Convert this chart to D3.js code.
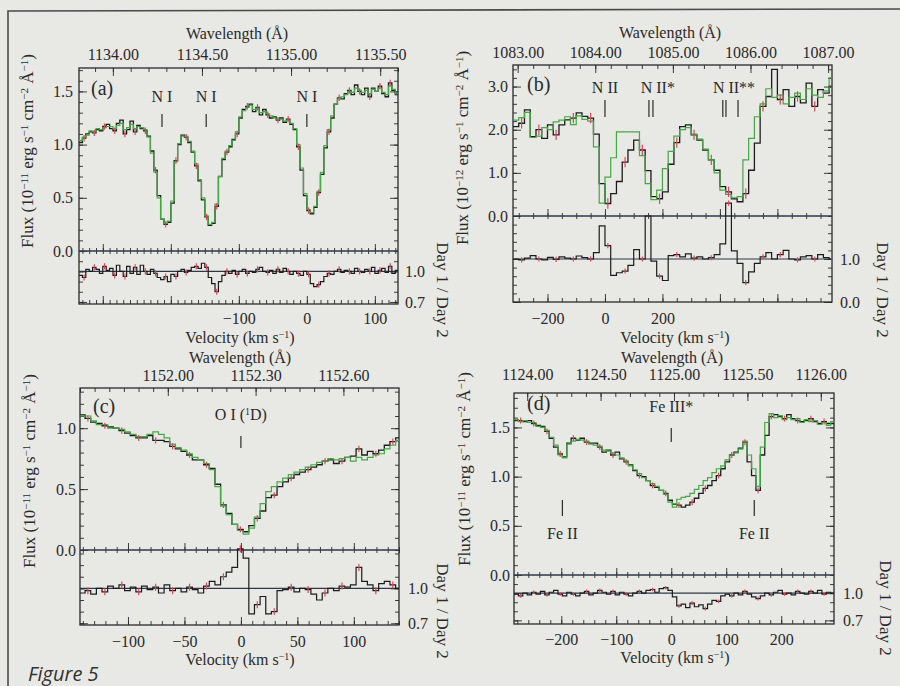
<!DOCTYPE html>
<html>
<head>
<meta charset="utf-8">
<script src="https://cdn.jsdelivr.net/npm/d3@7"></script>
<style>
  body { margin: 0; background: #e8e8e4; }
</style>
</head>
<body>
<svg id="fig" width="900" height="686"></svg>
<script>
// ---- panel (a): N I, flux in 1e-11, bins of 5 km/s from -335
const aDay1 = [1.02,1.06,1.10,1.12,1.11,1.14,1.13,1.17,1.19,1.15,
  1.13,1.20,1.23,1.10,1.14,1.22,1.12,1.18,1.15,1.13,
  1.08,0.94,0.76,0.52,0.30,0.25,0.27,0.45,0.85,1.00,
  1.09,1.07,1.02,0.93,0.80,0.66,0.48,0.32,0.24,0.26,
  0.42,0.70,0.86,0.93,0.98,1.05,1.10,1.25,1.33,1.36,
  1.38,1.31,1.35,1.28,1.33,1.28,1.25,1.26,1.23,1.25,
  1.21,1.24,1.19,1.14,0.98,0.76,0.52,0.38,0.35,0.41,
  0.55,0.72,0.97,1.12,1.25,1.38,1.44,1.43,1.48,1.51,
  1.47,1.56,1.50,1.47,1.53,1.45,1.53,1.50,1.55,1.48,
  1.45,1.58,1.51,1.47,1.50];
const aDay2 = [1.04,1.07,1.09,1.13,1.12,1.15,1.14,1.16,1.17,1.17,
  1.15,1.18,1.20,1.14,1.16,1.19,1.15,1.17,1.16,1.14,
  1.07,0.92,0.74,0.50,0.30,0.26,0.28,0.47,0.84,1.01,
  1.08,1.08,1.03,0.94,0.82,0.67,0.50,0.33,0.25,0.27,
  0.44,0.70,0.87,0.94,0.99,1.04,1.12,1.26,1.32,1.35,
  1.37,1.33,1.34,1.30,1.31,1.29,1.27,1.25,1.24,1.24,
  1.22,1.23,1.20,1.15,1.00,0.78,0.54,0.39,0.36,0.42,
  0.56,0.74,0.99,1.14,1.27,1.38,1.43,1.45,1.47,1.50,
  1.49,1.53,1.51,1.49,1.51,1.48,1.52,1.50,1.53,1.49,
  1.47,1.55,1.52,1.48,1.50];
const aRatio = [0.96,0.94,1.02,1.00,1.04,1.02,0.98,1.05,1.01,1.03,
  0.96,1.06,1.00,0.95,1.05,0.98,1.04,0.97,1.06,1.00,
  0.97,1.02,0.98,0.94,0.92,0.95,0.90,0.97,0.95,1.00,
  1.02,0.99,1.01,1.04,1.05,1.03,1.08,1.04,0.94,0.88,
  0.80,0.90,0.96,1.00,0.98,1.01,0.97,1.00,1.02,0.98,
  1.00,0.99,1.02,1.04,1.00,0.99,1.01,0.98,1.02,0.99,
  1.03,1.00,0.97,1.00,0.98,0.96,1.00,0.97,0.88,0.85,
  0.87,0.90,0.95,0.98,0.97,1.00,1.02,0.99,1.01,1.00,
  0.98,1.03,1.00,0.99,1.02,1.00,1.04,0.98,1.01,1.03,
  0.99,1.05,0.98,1.01,1.00];
const aWaveTicks = [1134.00, 1134.50, 1135.00, 1135.50];
const aVelLabels = [-100, 0, 100];
const aFluxTicks = [0, 0.5, 1.0, 1.5];
const aRatioTicks = [0.7, 1.0];
const aLines = [{name: "N I", at: -213, ticks: [-213]},
                {name: "N I", at: -148, ticks: [-148]},
                {name: "N I", at: 0, ticks: [0]}];

// ---- panel (b): N II, flux in 1e-12, bins of 20 km/s from -320
const bDay1 = [2.07,2.15,2.46,1.84,2.00,1.80,2.11,1.88,2.11,2.23,
  2.27,2.39,2.31,2.27,1.90,0.75,0.29,0.52,0.80,1.25,
  1.53,1.76,1.53,1.05,0.45,0.40,0.56,1.20,1.70,2.07,
  2.11,1.88,1.76,1.53,1.30,1.06,0.68,0.56,0.40,0.33,
  0.52,1.06,1.69,2.54,2.77,3.40,2.70,2.93,2.54,2.77,
  2.62,3.08,2.54,2.93,2.85,3.01];
const bDay2 = [2.22,2.28,2.40,1.82,1.85,2.05,2.00,2.18,2.22,2.30,
  2.12,2.32,2.24,2.20,1.60,0.30,0.90,1.35,1.95,1.95,
  1.95,1.95,1.40,0.75,0.38,0.60,1.10,1.50,1.85,2.00,
  2.05,1.90,1.78,1.55,1.30,1.00,0.60,0.50,0.42,0.45,
  1.30,1.80,2.30,2.60,2.95,2.75,2.80,2.60,2.75,2.85,
  2.70,2.95,2.80,2.75,2.90,3.20];
const bRatio = [1.00,0.98,1.02,1.08,1.00,0.98,1.04,0.99,1.05,1.02,
  1.00,1.07,1.03,1.00,1.15,1.77,1.31,0.62,0.68,0.72,
  0.85,1.22,1.00,2.00,0.95,0.60,0.50,1.08,1.10,1.05,
  1.12,1.02,1.05,1.00,1.03,1.10,1.35,2.30,1.19,0.90,
  0.45,0.70,0.90,1.05,1.15,1.00,1.10,1.20,1.00,0.98,
  1.05,1.08,1.00,1.10,1.03,1.00];
const bWaveTicks = [1083.00, 1084.00, 1085.00, 1086.00, 1087.00];
const bVelLabels = [-200, 0, 200];
const bFluxTicks = [0, 1.0, 2.0, 3.0];
const bRatioTicks = [0, 1.0];
const bLines = [{name: "N II", at: 0, ticks: [0]},
                {name: "N II*", at: 184, ticks: [153, 167]},
                {name: "N II**", at: 449, ticks: [410, 421, 463]}];

// ---- panel (c): O I (1D), flux in 1e-11, bins of 5 km/s from -143
const cDay1 = [1.11,1.08,1.05,1.04,1.02,1.01,1.00,0.98,0.96,0.94,
  0.92,0.92,0.94,0.90,0.90,0.89,0.85,0.83,0.81,0.78,
  0.74,0.74,0.70,0.67,0.54,0.37,0.30,0.21,0.17,0.15,
  0.20,0.26,0.32,0.43,0.45,0.52,0.56,0.59,0.62,0.64,
  0.66,0.68,0.70,0.73,0.74,0.71,0.73,0.76,0.77,0.83,
  0.78,0.81,0.79,0.82,0.86,0.89,0.92];
const cDay2 = [1.10,1.10,1.06,1.03,1.03,1.00,1.00,0.99,0.97,0.95,
  0.93,0.93,0.95,0.97,0.95,0.92,0.87,0.84,0.82,0.79,
  0.76,0.74,0.71,0.66,0.52,0.36,0.29,0.21,0.16,0.13,
  0.18,0.27,0.38,0.48,0.52,0.56,0.59,0.62,0.64,0.66,
  0.68,0.70,0.72,0.73,0.75,0.74,0.75,0.76,0.73,0.76,
  0.74,0.76,0.78,0.79,0.83,0.86,0.90];
const cRatio = [0.96,0.98,0.95,1.00,0.97,1.02,1.00,1.03,0.98,1.01,
  0.97,1.02,0.99,1.01,0.96,1.03,0.98,1.00,0.97,1.01,
  0.99,0.96,1.02,1.06,1.03,1.10,1.14,1.18,1.34,1.26,
  0.78,0.86,0.93,0.78,0.80,0.98,0.99,1.01,0.97,1.00,
  0.99,0.95,0.90,0.96,1.00,0.98,1.02,1.01,1.03,1.18,
  1.06,1.03,0.98,1.04,1.06,1.03,1.00];
const cWaveTicks = [1152.00, 1152.30, 1152.60];
const cVelLabels = [-100, -50, 0, 50, 100];
const cFluxTicks = [0, 0.5, 1.0];
const cRatioTicks = [0.7, 1.0];
const cLines = [{name: "O I (", sup: "1", tail: "D)", at: 0, ticks: [0]}];

// ---- panel (d): Fe III*, flux in 1e-11, bins of 8 km/s from -286
const dDay1 = [1.57,1.57,1.56,1.57,1.54,1.52,1.51,1.46,1.39,1.30,
  1.23,1.20,1.34,1.39,1.37,1.39,1.35,1.34,1.34,1.30,
  1.25,1.27,1.22,1.25,1.18,1.15,1.12,1.06,1.01,1.00,
  0.96,0.91,0.89,0.86,0.83,0.76,0.72,0.71,0.69,0.71,
  0.74,0.78,0.83,0.88,0.91,0.96,1.01,1.08,1.15,1.22,
  1.25,1.29,1.35,1.15,1.01,0.86,1.22,1.42,1.61,1.63,
  1.61,1.59,1.63,1.59,1.57,1.56,1.57,1.59,1.56,1.54,
  1.56,1.54,1.54];
const dDay2 = [1.58,1.56,1.57,1.55,1.55,1.51,1.50,1.47,1.40,1.32,
  1.22,1.19,1.33,1.36,1.38,1.37,1.36,1.33,1.32,1.31,
  1.27,1.26,1.24,1.22,1.19,1.16,1.11,1.07,1.03,0.99,
  0.96,0.93,0.90,0.86,0.82,0.74,0.69,0.77,0.79,0.80,
  0.83,0.87,0.91,0.96,0.99,1.04,1.08,1.11,1.17,1.22,
  1.24,1.28,1.36,1.22,1.08,0.90,1.30,1.55,1.64,1.60,
  1.62,1.58,1.60,1.58,1.59,1.55,1.58,1.56,1.57,1.53,
  1.55,1.52,1.56];
const dRatio = [0.99,0.97,1.00,0.98,1.01,0.99,1.02,0.98,1.01,1.03,
  0.99,0.97,1.01,0.99,0.97,1.00,1.02,0.98,1.00,1.03,
  1.01,0.99,1.02,0.98,1.01,0.99,0.97,1.00,1.02,1.00,
  1.03,1.04,1.01,1.05,1.06,1.03,0.96,0.86,0.88,0.84,
  0.89,0.85,0.87,0.83,0.88,0.92,0.91,0.97,0.99,0.97,
  1.00,0.98,1.02,0.99,0.96,0.94,0.97,1.00,0.98,1.01,
  1.03,0.99,1.00,0.98,1.02,1.00,0.99,1.02,1.00,1.03,
  0.99,1.01,1.00];
const dWaveTicks = [1124.00, 1124.50, 1125.00, 1125.50, 1126.00];
const dVelLabels = [-200, -100, 0, 100, 200];
const dFluxTicks = [0, 0.5, 1.0, 1.5];
const dRatioTicks = [0.7, 1.0];
const dLinesTop = [{name: "Fe III*", at: 0, ticks: [0]}];
const dLinesLow = [{name: "Fe II", at: -198, ticks: [-198]},
                   {name: "Fe II", at: 151, ticks: [151]}];

// typical 1-sigma sizes for the red error bars (flux, ratio)
const fluxErr = [0.03, 0.12, 0.025, 0.03];
const ratioErr = [0.03, 0.06, 0.03, 0.02];

const INK = "#2a2a2a", GREEN = "#45a845", RED = "#d8475a";
const SERIF = '"Liberation Serif","Times New Roman",serif';

const svg = d3.select("#fig");
svg.append("rect").attr("width", 900).attr("height", 686).attr("fill", "#e8e8e4");

// page frame
svg.append("path").attr("d", "M8,686 L8,11 L900,9")
  .attr("fill", "none").attr("stroke", "#4a4a4a").attr("stroke-width", 1.6);

const panels = [
  {name: "a", left: 79, right: 398, top: 68, mid: 251, bot: 304,
   vDom: [-335, 134], wDom: [1133.81, 1135.60], fDom: [0, 1.72], rDom: [0.68, 1.2],
   v0: -335, dv: 5, day1: aDay1, day2: aDay2, ratio: aRatio,
   waveTicks: aWaveTicks, wMinor: 0.1, wPad: 8,
   fluxTicks: aFluxTicks, fMinor: 0.1, fPad: 6,
   ratioTicks: aRatioTicks, rMinor: 0.1, rPad: 7,
   vMajor: 100, vMinor: 10, velLabels: aVelLabels, vPad: 8.5,
   waveTitle: [237, 39], velTitle: [240, 343], fluxLab: [33, 151, "\u221211"], dayLab: [437, 290],
   letter: [91, 95], err: 0,
   rows: [{lines: aLines, ly: 102, t0: 114, t1: 127}]},
  {name: "b", left: 513, right: 832, top: 65, mid: 216, bot: 302,
   vDom: [-320, 790], wDom: [1082.94, 1087.05], fDom: [0, 3.5], rDom: [0, 2.0],
   v0: -320, dv: 20, day1: bDay1, day2: bDay2, ratio: bRatio,
   waveTicks: bWaveTicks, wMinor: 0.2, wPad: 7,
   fluxTicks: bFluxTicks, fMinor: 0.2, fPad: 5,
   ratioTicks: bRatioTicks, rMinor: 0.2, rPad: 8,
   vMajor: 200, vMinor: 50, velLabels: bVelLabels, vPad: 10.5,
   waveTitle: [670, 38], velTitle: [675, 343], fluxLab: [468, 148, "\u221212"], dayLab: [877, 290],
   letter: [527, 91], err: 1,
   rows: [{lines: bLines, ly: 93, t0: 100, t1: 117}]},
  {name: "c", left: 80, right: 399, top: 388, mid: 550, bot: 625,
   vDom: [-142.5, 140], wDom: [1151.70, 1152.79], fDom: [0, 1.33], rDom: [0.685, 1.33],
   v0: -143, dv: 5, day1: cDay1, day2: cDay2, ratio: cRatio,
   waveTicks: cWaveTicks, wMinor: 0.05, wPad: 7,
   fluxTicks: cFluxTicks, fMinor: 0.1, fPad: 4,
   ratioTicks: cRatioTicks, rMinor: 0.1, rPad: 9,
   vMajor: 50, vMinor: 10, velLabels: cVelLabels, vPad: 10.5,
   waveTitle: [240, 363], velTitle: [240, 665], fluxLab: [35, 471, "\u221211"], dayLab: [437, 611],
   letter: [93, 413], err: 2,
   rows: [{lines: cLines, ly: 420, t0: 436, t1: 448}]},
  {name: "d", left: 514, right: 834, top: 393, mid: 575, bot: 624,
   vDom: [-286, 296], wDom: [1123.91, 1126.09], fDom: [0, 1.85], rDom: [0.66, 1.2],
   v0: -286, dv: 8, day1: dDay1, day2: dDay2, ratio: dRatio,
   waveTicks: dWaveTicks, wMinor: 0.1, wPad: 13,
   fluxTicks: dFluxTicks, fMinor: 0.1, fPad: 4,
   ratioTicks: dRatioTicks, rMinor: 0.1, rPad: 9,
   vMajor: 100, vMinor: 20, velLabels: dVelLabels, vPad: 9.5,
   waveTitle: [672, 363], velTitle: [675, 663], fluxLab: [470, 469, "\u221211"], dayLab: [880, 608],
   letter: [527, 410], err: 3,
   rows: [{lines: dLinesTop, ly: 412, t0: 428, t1: 442},
          {lines: dLinesLow, ly: 539, t0: 500, t1: 516}]}
];

function ticksIn(dom, step) {
  const out = [];
  const lo = Math.min(dom[0], dom[1]), hi = Math.max(dom[0], dom[1]);
  for (let k = Math.ceil(lo / step - 1e-6); k * step <= hi + 1e-9; k++) out.push(+(k * step).toFixed(6));
  return out;
}

function styleAxis(g, size) {
  g.select(".domain").remove();
  g.attr("font-family", SERIF).attr("font-size", size).attr("color", INK);
  g.selectAll(".tick line").attr("stroke-width", 0.9);
}

function stepPoints(vals, v0, dv) {
  const pts = vals.map((f, i) => [v0 + i * dv, f]);
  pts.push([v0 + vals.length * dv, vals[vals.length - 1]]);
  return pts;
}

// text with superscript pieces: parts = [[text, isSup], ...]
function richText(sel, parts, supSize) {
  let up = false;
  parts.forEach(([s, sup]) => {
    const ts = sel.append("tspan").text(s);
    if (sup) { ts.attr("font-size", supSize); if (!up) { ts.attr("dy", -5); up = true; } }
    else if (up) { ts.attr("dy", 5); up = false; }
  });
  return sel;
}

function drawPanel(p) {
  const g = svg.append("g");
  const x = d3.scaleLinear().domain(p.vDom).range([p.left, p.right]);
  const xw = d3.scaleLinear().domain(p.wDom).range([p.left, p.right]);
  const yf = d3.scaleLinear().domain(p.fDom).range([p.mid, p.top]);
  const yr = d3.scaleLinear().domain(p.rDom).range([p.bot, p.mid]);
  const w = p.right - p.left;

  g.append("clipPath").attr("id", "cu" + p.name).append("rect")
    .attr("x", p.left).attr("y", p.top).attr("width", w).attr("height", p.mid - p.top);
  g.append("clipPath").attr("id", "cl" + p.name).append("rect")
    .attr("x", p.left).attr("y", p.top).attr("width", w).attr("height", p.bot - p.top);

  // top wavelength axis
  g.append("g").attr("transform", `translate(0,${p.top})`)
    .call(d3.axisTop(xw).tickValues(ticksIn(p.wDom, p.wMinor)).tickSize(-4).tickFormat(""))
    .call(a => styleAxis(a, 16));
  g.append("g").attr("transform", `translate(0,${p.top})`)
    .call(d3.axisTop(xw).tickValues(p.waveTicks).tickSize(-8).tickPadding(p.wPad).tickFormat(d3.format(".2f")))
    .call(a => styleAxis(a, 16));

  // flux axes (left labelled, right ticks only)
  g.append("g").attr("transform", `translate(${p.left},0)`)
    .call(d3.axisLeft(yf).tickValues(ticksIn(p.fDom, p.fMinor)).tickSize(-4).tickFormat(""))
    .call(a => styleAxis(a, 16));
  g.append("g").attr("transform", `translate(${p.left},0)`)
    .call(d3.axisLeft(yf).tickValues(p.fluxTicks).tickSize(-8).tickPadding(p.fPad).tickFormat(d3.format(".1f")))
    .call(a => styleAxis(a, 16));
  g.append("g").attr("transform", `translate(${p.right},0)`)
    .call(d3.axisRight(yf).tickValues(ticksIn(p.fDom, p.fMinor)).tickSize(-4).tickFormat(""))
    .call(a => styleAxis(a, 16));
  g.append("g").attr("transform", `translate(${p.right},0)`)
    .call(d3.axisRight(yf).tickValues(p.fluxTicks.filter(v => v > 0)).tickSize(-8).tickFormat(""))
    .call(a => styleAxis(a, 16));

  // ratio axes (right labelled)
  const rMinors = ticksIn(p.rDom, p.rMinor).filter(v => yr(v) > p.mid + 2);
  g.append("g").attr("transform", `translate(${p.left},0)`)
    .call(d3.axisLeft(yr).tickValues(rMinors).tickSize(-4).tickFormat(""))
    .call(a => styleAxis(a, 16));
  g.append("g").attr("transform", `translate(${p.left},0)`)
    .call(d3.axisLeft(yr).tickValues(p.ratioTicks).tickSize(-8).tickFormat(""))
    .call(a => styleAxis(a, 16));
  g.append("g").attr("transform", `translate(${p.right},0)`)
    .call(d3.axisRight(yr).tickValues(rMinors).tickSize(-4).tickFormat(""))
    .call(a => styleAxis(a, 16));
  g.append("g").attr("transform", `translate(${p.right},0)`)
    .call(d3.axisRight(yr).tickValues(p.ratioTicks).tickSize(-8).tickPadding(p.rPad).tickFormat(d3.format(".1f")))
    .call(a => styleAxis(a, 16));

  // velocity axis at bottom and on the divider
  const vMaj = ticksIn(p.vDom, p.vMajor);
  const vMin = ticksIn(p.vDom, p.vMinor);
  const fmtV = d3.format("d");
  g.append("g").attr("transform", `translate(0,${p.bot})`)
    .call(d3.axisBottom(x).tickValues(vMin).tickSize(-4).tickFormat(""))
    .call(a => styleAxis(a, 16));
  g.append("g").attr("transform", `translate(0,${p.bot})`)
    .call(d3.axisBottom(x).tickValues(vMaj).tickSize(-8).tickPadding(p.vPad)
      .tickFormat(v => p.velLabels.includes(v) ? fmtV(v) : ""))
    .call(a => styleAxis(a, 16));
  g.append("g").attr("transform", `translate(0,${p.mid})`)
    .call(d3.axisTop(x).tickValues(vMaj).tickSize(7).tickFormat(""))
    .call(a => styleAxis(a, 16));
  g.append("g").attr("transform", `translate(0,${p.mid})`)
    .call(d3.axisTop(x).tickValues(vMin).tickSize(3).tickFormat(""))
    .call(a => styleAxis(a, 16));
  g.append("g").attr("transform", `translate(0,${p.mid})`)
    .call(d3.axisBottom(x).tickValues(vMin).tickSize(3).tickFormat(""))
    .call(a => styleAxis(a, 16));

  // box, divider, ratio = 1 line
  g.append("rect").attr("x", p.left).attr("y", p.top).attr("width", w).attr("height", p.bot - p.top)
    .attr("fill", "none").attr("stroke", INK).attr("stroke-width", 1.3);
  g.append("line").attr("x1", p.left).attr("x2", p.right).attr("y1", p.mid).attr("y2", p.mid)
    .attr("stroke", "#303848").attr("stroke-width", 1.3);
  g.append("line").attr("x1", p.left).attr("x2", p.right).attr("y1", yr(1)).attr("y2", yr(1))
    .attr("stroke", "#303848").attr("stroke-width", 1.1);

  // spectra
  const lineF = d3.line().x(d => x(d[0])).y(d => yf(d[1])).curve(d3.curveStepAfter);
  const lineR = d3.line().x(d => x(d[0])).y(d => yr(d[1])).curve(d3.curveStepAfter);
  const up = g.append("g").attr("clip-path", `url(#cu${p.name})`);
  up.append("path").attr("d", lineF(stepPoints(p.day1, p.v0, p.dv)))
    .attr("fill", "none").attr("stroke", "#1c1c1c").attr("stroke-width", 1.3);
  up.append("path").attr("d", lineF(stepPoints(p.day2, p.v0, p.dv)))
    .attr("fill", "none").attr("stroke", GREEN).attr("stroke-width", 1.2);
  const se = fluxErr[p.err];
  up.selectAll("line.eb").data(p.day1.filter((f, i) => i % 3 === 1).map((f, k) => [p.v0 + (3 * k + 1.5) * p.dv, f]))
    .join("line").attr("class", "eb")
    .attr("x1", d => x(d[0])).attr("x2", d => x(d[0]))
    .attr("y1", d => yf(d[1] - se)).attr("y2", d => yf(d[1] + se))
    .attr("stroke", RED).attr("stroke-width", 1.2);

  const lo = g.append("g").attr("clip-path", `url(#cl${p.name})`);
  lo.append("path").attr("d", lineR(stepPoints(p.ratio, p.v0, p.dv)))
    .attr("fill", "none").attr("stroke", "#1c1c1c").attr("stroke-width", 1.2);
  const re = ratioErr[p.err];
  lo.selectAll("line.eb").data(p.ratio.filter((r, i) => i % 3 === 1).map((r, k) => [p.v0 + (3 * k + 1.5) * p.dv, r]))
    .join("line").attr("class", "eb")
    .attr("x1", d => x(d[0])).attr("x2", d => x(d[0]))
    .attr("y1", d => yr(d[1] - re)).attr("y2", d => yr(d[1] + re))
    .attr("stroke", RED).attr("stroke-width", 1.2);

  // line identifications
  p.rows.forEach(row => {
    row.lines.forEach(l => {
      const t = g.append("text").attr("x", x(l.at)).attr("y", row.ly)
        .attr("text-anchor", "middle").attr("font-family", SERIF).attr("font-size", 16).attr("fill", INK);
      if (l.sup) richText(t, [[l.name, 0], [l.sup, 1], [l.tail, 0]], 10);
      else t.text(l.name);
      l.ticks.forEach(v => {
        g.append("line").attr("x1", x(v)).attr("x2", x(v)).attr("y1", row.t0).attr("y2", row.t1)
          .attr("stroke", INK).attr("stroke-width", 1.2);
      });
    });
  });

  // panel letter
  g.append("text").attr("x", p.letter[0]).attr("y", p.letter[1])
    .attr("font-family", SERIF).attr("font-size", 20).attr("fill", INK).text(`(${p.name})`);

  // titles
  g.append("text").attr("x", p.waveTitle[0]).attr("y", p.waveTitle[1]).attr("text-anchor", "middle")
    .attr("font-family", SERIF).attr("font-size", 16).attr("fill", INK).text("Wavelength (\u00c5)");
  richText(g.append("text").attr("x", p.velTitle[0]).attr("y", p.velTitle[1]).attr("text-anchor", "middle")
    .attr("font-family", SERIF).attr("font-size", 16).attr("fill", INK),
    [["Velocity (km s", 0], ["\u22121", 1], [")", 0]], 10);
  richText(g.append("text").attr("transform", `translate(${p.fluxLab[0]},${p.fluxLab[1]}) rotate(-90)`)
    .attr("text-anchor", "middle").attr("font-family", SERIF).attr("font-size", 17).attr("fill", INK),
    [["Flux (10", 0], [p.fluxLab[2], 1], [" erg s", 0], ["\u22121", 1], [" cm", 0], ["\u22122", 1],
     [" \u00c5", 0], ["\u22121", 1], [")", 0]], 11);
  g.append("text").attr("transform", `translate(${p.dayLab[0]},${p.dayLab[1]}) rotate(90)`)
    .attr("text-anchor", "middle").attr("font-family", SERIF).attr("font-size", 17).attr("fill", INK)
    .text("Day 1 / Day 2");
}

panels.forEach(drawPanel);

svg.append("text").attr("x", 28).attr("y", 681)
  .attr("font-family", '"Open Sans","Noto Sans",sans-serif').attr("font-style", "italic")
  .attr("font-size", 20).attr("fill", "#333").text("Figure 5");
</script>
</body>
</html>
